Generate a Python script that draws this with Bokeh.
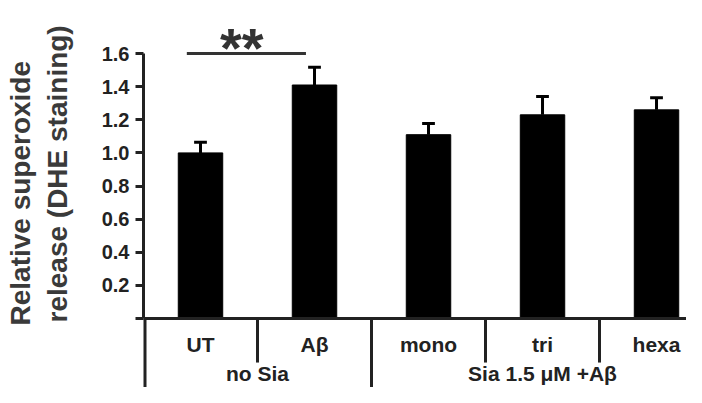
import numpy as np
from bokeh.plotting import figure
from bokeh.models import Range1d, FixedTicker, Span, Title
from bokeh.core.properties import value
from bokeh.embed import file_html
from bokeh.resources import INLINE

# ---- data ----
categories = ["UT", "A\u03b2", "mono", "tri", "hexa"]
group_names = ["no Sia", "Sia 1.5 \u03bcM +A\u03b2"]
group_of = [0, 0, 1, 1, 1]
means = [1.00, 1.41, 1.11, 1.23, 1.26]
errors = [0.065, 0.107, 0.067, 0.111, 0.073]
y_ticks = [0.0, 0.2, 0.4, 0.6, 0.8, 1.0, 1.2, 1.4, 1.6]
y_tick_labels = ["", "0.2", "0.4", "0.6", "0.8", "1.0", "1.2", "1.4", "1.6"]
sig_pair = (0, 1)
sig_text = "**"
sig_level = 1.6
ylabel_lines = ["Relative superoxide", "release (DHE staining)"]

FONT = "Liberation Sans"
DARK = "#222222"

xs = np.arange(len(categories)) + 0.5
means_a = np.array(means)
tops = means_a + np.array(errors)

y_start, y_end = -0.4167, 1.872
x_end = 4.763

p = figure(width=686, height=387, output_backend="svg", toolbar_location=None,
           x_range=Range1d(0, x_end), y_range=Range1d(y_start, y_end),
           x_axis_location=None, y_axis_location="left",
           min_border_left=143, min_border_right=0, min_border_top=8, min_border_bottom=0)
p.outline_line_color = None
p.xgrid.visible = False
p.ygrid.visible = False
p.background_fill_color = "white"
p.border_fill_color = "white"

ax = p.yaxis[0]
ax.ticker = FixedTicker(ticks=y_ticks)
ax.major_label_overrides = {t: l for t, l in zip(y_ticks, y_tick_labels)}
ax.bounds = (min(y_ticks), max(y_ticks))
ax.axis_line_width = 3
ax.axis_line_color = DARK
ax.major_tick_line_width = 3
ax.major_tick_line_color = DARK
ax.major_tick_out = 8
ax.major_tick_in = 0
ax.minor_tick_line_color = None
ax.major_label_text_font = FONT
ax.major_label_text_font_size = "20px"
ax.major_label_text_font_style = "bold"
ax.major_label_text_color = DARK
ax.major_label_standoff = 6

# y-axis title: two rotated lines (second line nearest the axis)
for line, off, so in [(ylabel_lines[1], 65, 51), (ylabel_lines[0], 62, -42)]:
    p.add_layout(Title(text=line, align="left", offset=off, standoff=so,
                       text_font=FONT, text_font_size="28px", text_font_style="bold",
                       text_color="#3a3a3a"), "left")

# bars
p.vbar(x=xs, width=0.39, top=means_a, bottom=0, fill_color="black", line_color="black", line_width=1)
# error bars
p.segment(x0=xs, y0=means_a, x1=xs, y1=tops, line_color="black", line_width=3)
cap = 0.056
p.segment(x0=xs - cap, y0=tops, x1=xs + cap, y1=tops, line_color="black", line_width=3)

# baseline (x axis)
p.add_layout(Span(location=0, dimension="width", line_color=DARK, line_width=3))

# category separators below baseline (long at group boundaries incl. left edge)
sep_x, sep_y1, sep_w = [], [], []
for i in range(0, len(categories)):
    sep_x.append(float(i))
    long_sep = (i == 0) or (group_of[i] != group_of[i - 1])
    sep_y1.append(y_start if long_sep else -0.266)
    sep_w.append(6 if i == 0 else 3)
p.segment(x0=sep_x, y0=[0] * len(sep_x), x1=sep_x, y1=sep_y1, line_color=DARK, line_width=sep_w)

# category labels
p.text(x=xs, y=[-0.156] * len(xs), text=categories, text_font=value(FONT), text_font_size="21px",
       text_font_style="bold", text_color=DARK, text_align="center", text_baseline="alphabetic")
# group labels
g_x = [float(np.mean([xs[i] for i in range(len(xs)) if group_of[i] == g])) for g in range(len(group_names))]
p.text(x=g_x, y=[-0.332] * len(g_x), text=group_names, text_font=value(FONT), text_font_size="21px",
       text_font_style="bold", text_color=DARK, text_align="center", text_baseline="alphabetic")

# significance
sx0 = xs[sig_pair[0]] - 0.12
sx1 = xs[sig_pair[1]] - 0.075
p.segment(x0=[sx0], y0=[sig_level], x1=[sx1], y1=[sig_level], line_color="#333333", line_width=3)
p.text(x=[(sx0 + sx1) / 2 - 0.04], y=[sig_level + 0.035], text=[sig_text], text_font=value(FONT),
       text_font_size="56px", text_font_style="bold", text_color="#333333",
       text_align="center", text_baseline="alphabetic")

open("out.html", "w").write(file_html(p, INLINE))
